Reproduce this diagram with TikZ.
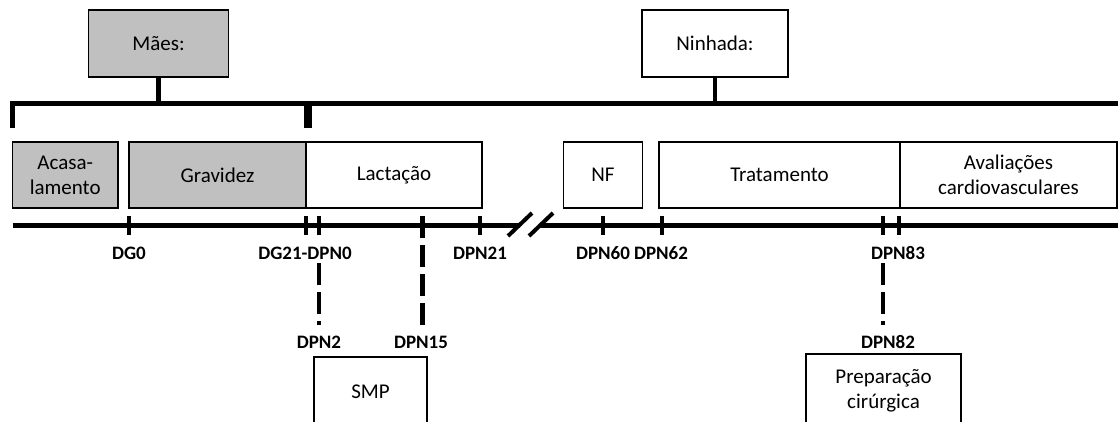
\documentclass[tikz,border=0pt]{standalone}
\usepackage{fontspec}
\setmainfont{Carlito}
\definecolor{boxgray}{RGB}{192,192,192}
\begin{document}
\begin{tikzpicture}[x=1pt,y=-1pt,
  box/.style={draw, line width=1.1pt, inner sep=0pt, align=center, font=\fontsize{21}{25}\selectfont},
  grey/.style={fill=boxgray},
  lbl/.style={font=\fontsize{19}{22}\selectfont\bfseries, inner sep=1pt},
  heavy/.style={line width=5pt},
  tickln/.style={line width=4.5pt},
  dashln/.style={line width=4.5pt, dash pattern=on 22pt off 7pt}
]
\useasboundingbox (0,0) rectangle (1118,421);
\clip (0,0) rectangle (1118,421);

% top boxes
\node[box,grey,minimum width=140pt,minimum height=67pt] (maes) at (158.6,43.5) {Mães:};
\node[box,minimum width=146pt,minimum height=67pt] (ninhada) at (715,43.5) {Ninhada:};

% bracket
\coordinate (bl) at (12.7,103);
\coordinate (br) at (1125,103);
\coordinate (bm) at (308,103);
\draw[heavy] (12.7,128) -- (bl) -- (br);
\draw[line width=8pt] (308,101) -- (308,128);
\draw[line width=4.5pt] (maes.south) -- (maes.south |- bl);
\draw[line width=4.5pt] (ninhada.south) -- (ninhada.south |- bl);

% phase boxes
\node[box,grey,minimum width=105.5pt,minimum height=66pt] (acas) at (65.2,175) {Acasa-\\lamento};
\node[box,grey,minimum width=177pt,minimum height=66pt] (grav) at (217.5,175) {Gravidez};
\node[box,minimum width=176pt,minimum height=66pt] (lact) at (394,175) {Lactação};
\node[box,minimum width=79.5pt,minimum height=66pt] (nf) at (603,175) {NF};
\node[box,minimum width=241pt,minimum height=66pt] (trat) at (779.5,175) {Tratamento};
\node[box,minimum width=217pt,minimum height=66pt] (aval) at (1008.5,175) {Avaliações\\cardiovasculares};

% timeline
\coordinate (tl0) at (12.5,225);
\coordinate (tlb1) at (520,225);
\coordinate (tlb2) at (541,225);
\coordinate (tlend) at (1125,225);
\draw[heavy] (tl0) -- (tlb1);
\draw[heavy] (tlb2) -- (tlend);
\draw[line width=4pt] (508,236) -- (532,213);
\draw[line width=4pt] (529,236) -- (553,213);

% ticks
\foreach \n/\x in {dg0/129, dg21/306, dpn0/319, dpn21/480, dpn60/603, dpn62/662, dpn82/883, dpn83/899}{
  \coordinate (t\n) at (\x,225);
  \draw[tickln] (\x,216) -- (\x,235);
}
\coordinate (tdpn15) at (422.5,216);

% labels
\node[lbl] (lg0) at (129,253) {DG0};
\node[lbl] (lg21) at (305,253) {DG21-DPN0};
\node[lbl] (l21) at (480,253) {DPN21};
\node[lbl] (l60) at (603,253) {DPN60};
\node[lbl] (l62) at (661,253) {DPN62};
\node[lbl] (l83) at (898,253) {DPN83};
\node[lbl] (l2) at (319,342) {DPN2};
\node[lbl] (l15) at (421,342) {DPN15};
\node[lbl] (l82) at (888,342) {DPN82};

% dashed connectors
\draw[dashln] (tdpn0 |- 0,263) -- (tdpn0 |- 0,325);
\draw[dashln] (tdpn15) -- (tdpn15 |- 0,325);
\draw[dashln] (tdpn82 |- 0,263) -- (tdpn82 |- 0,325);

% bottom boxes (run past the lower edge)
\node[box,minimum width=113pt,minimum height=70pt] (smp) at (370.5,392) {SMP};
\node[box,minimum width=155pt,minimum height=74pt] (prep) at (883.5,391) {Preparação\\cirúrgica};
\end{tikzpicture}
\end{document}
